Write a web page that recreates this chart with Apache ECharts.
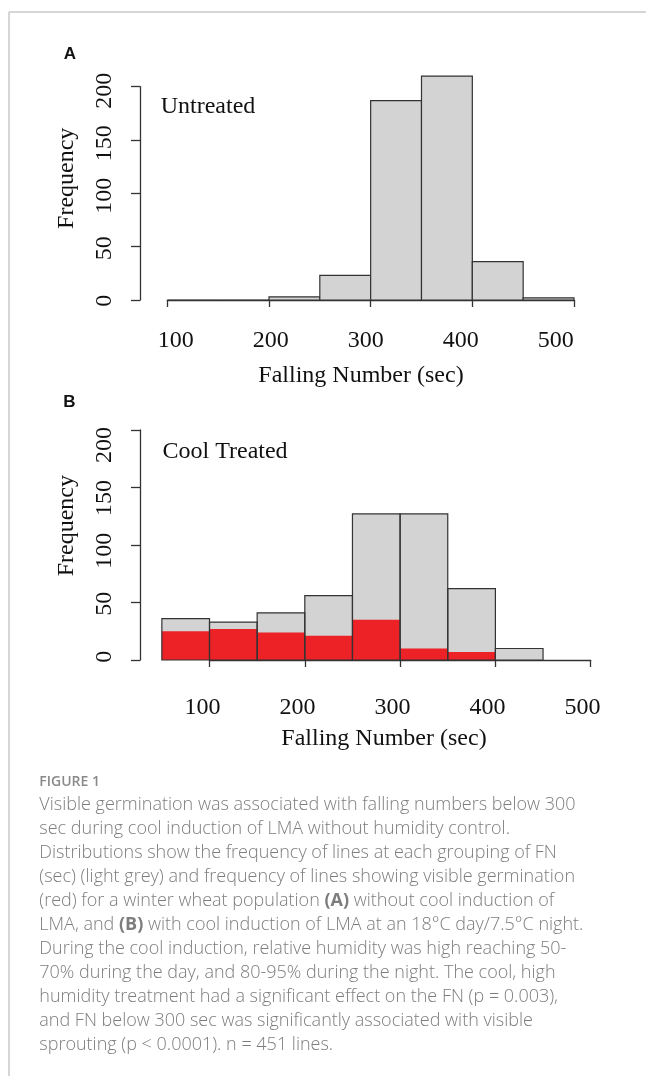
<!DOCTYPE html>
<html>
<head>
<meta charset="utf-8">
<style>
  html, body { margin: 0; padding: 0; background: #ffffff; }
  #chart { width: 646px; height: 1076px; }
</style>
<script src="https://cdn.jsdelivr.net/npm/echarts@6/dist/echarts.min.js"></script>
</head>
<body>
<div id="chart"></div>
<script>
// ---------------- data ----------------
const binWidth = 50;
// Panel A: untreated
const binStartsA = [100, 150, 200, 250, 300, 350, 400, 450];
const countsA    = [0, 0, 3, 23, 187, 210, 36, 2];
// Panel B: cool treated (grey = all lines, red = lines with visible germination)
const binStartsB = [50, 100, 150, 200, 250, 300, 350, 400];
const countsB    = [36, 33, 41, 56, 127, 127, 62, 10];
const germB      = [25, 27, 24, 21, 35, 10, 7, 0];
// Axis ticks / labels
const xTicks = [100, 200, 300, 400, 500];
const yTicks = [0, 50, 100, 150, 200];
const panelTitles = ['Untreated', 'Cool Treated'];
const axisTitleX = 'Falling Number (sec)';
const axisTitleY = 'Frequency';
const captionHead = 'FIGURE 1';
const captionLines = [
  'Visible germination was associated with falling numbers below 300',
  'sec during cool induction of LMA without humidity control.',
  'Distributions show the frequency of lines at each grouping of FN',
  '(sec) (light grey) and frequency of lines showing visible germination',
  '(red) for a winter wheat population {b|(A)} without cool induction of',
  'LMA, and {b|(B)} with cool induction of LMA at an 18°C day/7.5°C night.',
  'During the cool induction, relative humidity was high reaching 50-',
  '70% during the day, and 80-95% during the night. The cool, high',
  'humidity treatment had a significant effect on the FN (p = 0.003),',
  'and FN below 300 sec was significantly associated with visible',
  'sprouting (p < 0.0001). n = 451 lines.'
];

// ---------------- styling ----------------
const SERIF = '"Liberation Serif", "Times New Roman", serif';
const AX = '#333333';
const GREY = '#d3d3d3';
const RED = '#ec2227';

function toBins(starts, counts) {
  return starts.map((s, i) => [s, s + binWidth, counts[i]]);
}
function rectRenderer(fill, stroke, lw) {
  return function (params, api) {
    const p0 = api.coord([api.value(0), api.value(2)]);
    const p1 = api.coord([api.value(1), 0]);
    return {
      type: 'rect',
      shape: { x: p0[0], y: p0[1], width: p1[0] - p0[0], height: p1[1] - p0[1] },
      style: { fill: fill, stroke: stroke, lineWidth: lw }
    };
  };
}

const tickXAxis = (grid, offset) => ({
  type: 'value', gridIndex: grid, min: 100, max: 500, interval: 100, offset: offset,
  axisLine: { show: true, lineStyle: { color: AX, width: 1.3 } },
  axisTick: { show: true, length: 7, lineStyle: { color: AX, width: 1.3 } },
  axisLabel: { show: false }, splitLine: { show: false }
});
const tickYAxis = (grid, offset) => ({
  type: 'value', gridIndex: grid, min: 0, max: 200, interval: 50, offset: offset,
  axisLine: { show: true, lineStyle: { color: AX, width: 1.3 } },
  axisTick: { show: true, length: 9, lineStyle: { color: AX, width: 1.3 } },
  axisLabel: { show: false }, splitLine: { show: false }
});
const labelXAxis = (grid) => ({
  type: 'value', gridIndex: grid, min: 100, max: 500, interval: 100,
  axisLine: { show: false }, axisTick: { show: false }, splitLine: { show: false },
  axisLabel: { show: true, margin: 10, fontFamily: SERIF, fontSize: 24, color: '#111' }
});
const labelYAxis = (grid) => ({
  type: 'value', gridIndex: grid, min: 0, max: 200, interval: 50,
  axisLine: { show: false }, axisTick: { show: false }, splitLine: { show: false },
  axisLabel: { show: true, rotate: 90, margin: 23, fontFamily: SERIF, fontSize: 24, color: '#111' }
});
const hiddenAxis = (grid) => ({ type: 'value', gridIndex: grid, min: 0, max: 1, show: false });

const gridBase = { outerBoundsMode: 'none', containLabel: false };

const txt = (x, y, text, font, fill, align, valign, extra) => Object.assign({
  type: 'text', x: x, y: y,
  style: { text: text, font: font, fill: fill,
           textAlign: align, textVerticalAlign: valign, align: align, verticalAlign: valign }
}, extra || {});

const option = {
  animation: false,
  backgroundColor: '#ffffff',
  grid: [
    Object.assign({ left: 167.3, top: 86.7, width: 406.7, height: 213.3 }, gridBase), // 0 A main
    Object.assign({ left: 175.7, top: 300, width: 380, height: 18.7 }, gridBase),     // 1 A x labels
    Object.assign({ left: 140, top: 90.8, width: 40, height: 209.9 }, gridBase),      // 2 A y labels
    Object.assign({ left: 209.5, top: 430, width: 381.2, height: 230 }, gridBase),    // 3 B main
    Object.assign({ left: 202.5, top: 670, width: 380, height: 15.7 }, gridBase),     // 4 B x labels
    Object.assign({ left: 140, top: 445, width: 40, height: 211.7 }, gridBase)        // 5 B y labels
  ],
  xAxis: [
    tickXAxis(0, 9.3),
    labelXAxis(1),
    hiddenAxis(2),
    tickXAxis(3, 10),
    labelXAxis(4),
    hiddenAxis(5)
  ],
  yAxis: [
    tickYAxis(0, 27.3),
    hiddenAxis(1),
    labelYAxis(2),
    tickYAxis(3, 69.5),
    hiddenAxis(4),
    labelYAxis(5)
  ],
  series: [
    {
      type: 'custom', name: 'Untreated', xAxisIndex: 0, yAxisIndex: 0, clip: false, silent: true,
      data: toBins(binStartsA, countsA), renderItem: rectRenderer(GREY, AX, 1.2)
    },
    {
      type: 'custom', name: 'Cool Treated', xAxisIndex: 3, yAxisIndex: 3, clip: false, silent: true,
      data: toBins(binStartsB, countsB), renderItem: rectRenderer(GREY, null, 0)
    },
    {
      type: 'custom', name: 'Visible germination', xAxisIndex: 3, yAxisIndex: 3, clip: false, silent: true,
      data: toBins(binStartsB, germB), renderItem: rectRenderer(RED, null, 0)
    },
    {
      type: 'custom', name: 'Cool Treated outline', xAxisIndex: 3, yAxisIndex: 3, clip: false, silent: true,
      data: toBins(binStartsB, countsB), renderItem: rectRenderer('none', AX, 1.2)
    }
  ],
  graphic: [
    { type: 'line', shape: { x1: 9, y1: 12, x2: 646, y2: 12 }, style: { stroke: '#c8c8c8', lineWidth: 1.5 } },
    { type: 'line', shape: { x1: 9, y1: 12, x2: 9, y2: 1076 }, style: { stroke: '#c8c8c8', lineWidth: 1.5 } },
    txt(70, 54, 'A', 'bold 17px "Liberation Sans", Arial, sans-serif', '#111', 'center', 'middle'),
    txt(69.5, 402.5, 'B', 'bold 17px "Liberation Sans", Arial, sans-serif', '#111', 'center', 'middle'),
    txt(160.7, 106.7, panelTitles[0], '24px ' + SERIF, '#111', 'left', 'middle'),
    txt(162.5, 451.7, panelTitles[1], '24px ' + SERIF, '#111', 'left', 'middle'),
    txt(361, 376, axisTitleX, '24px ' + SERIF, '#111', 'center', 'middle'),
    txt(384, 739, axisTitleX, '24px ' + SERIF, '#111', 'center', 'middle'),
    txt(66.8, 178.3, axisTitleY, '24px ' + SERIF, '#111', 'center', 'middle', { rotation: Math.PI / 2 }),
    txt(66.8, 525.7, axisTitleY, '24px ' + SERIF, '#111', 'center', 'middle', { rotation: Math.PI / 2 }),
    txt(39.3, 781.7, captionHead, '600 14px "Open Sans", sans-serif', '#8a8a8a', 'left', 'middle'),
    { type: 'text', x: 39.3, y: 793, style: {
        text: captionLines.join('\n'), font: '300 18px "Open Sans", sans-serif', fill: '#7d7d7d', lineHeight: 24,
        textAlign: 'left', textVerticalAlign: 'top', align: 'left', verticalAlign: 'top',
        rich: { b: { fontWeight: 'bold', fontSize: 18, fontFamily: '"Open Sans", sans-serif', fill: '#7d7d7d', lineHeight: 24 } }
    } }
  ]
};

const chart = echarts.init(document.getElementById('chart'), null, { renderer: 'canvas' });
chart.setOption(option);
</script>
</body>
</html>
